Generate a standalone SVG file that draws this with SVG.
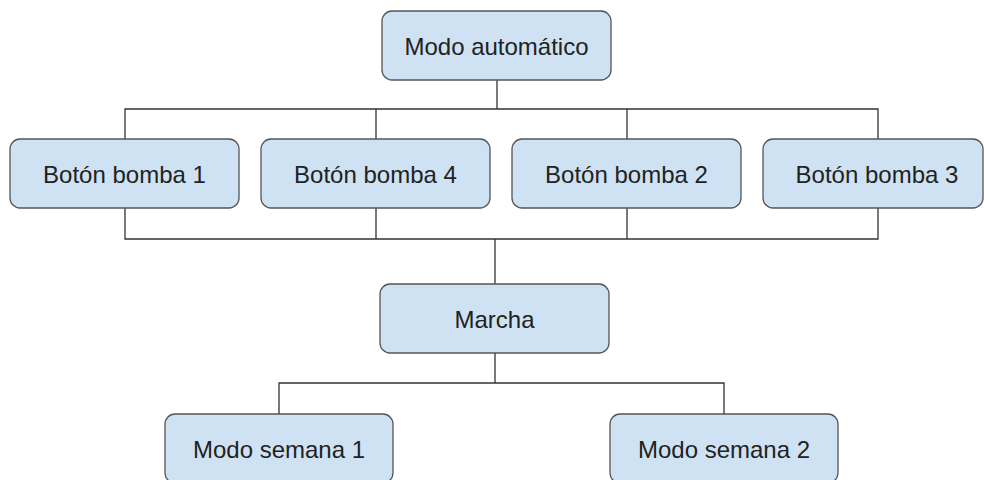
<svg xmlns="http://www.w3.org/2000/svg" width="984" height="480" viewBox="0 0 984 480">
  <style>
    .box { fill: #cfe2f3; stroke: #555555; stroke-width: 1.3; }
    .lbl { font-family: "Liberation Sans", Arial, sans-serif; font-size: 24px; fill: #222222; text-anchor: middle; dominant-baseline: central; }
    .wire { fill: none; stroke: #333333; stroke-width: 1.3; }
  </style>
  <rect width="984" height="480" fill="#ffffff"/>

  <!-- connectors -->
  <g id="connectors">
    <path class="wire" d="M497 80 V109 M125 139 V109 H878 V139 M376 109 V139 M627 109 V139"/>
    <path class="wire" d="M125 208 V239 H878 V208 M376 208 V239 M627 208 V239"/>
    <path class="wire" d="M495 239 V284"/>
    <path class="wire" d="M495 353 V383 M279 414 V383 H724 V414"/>
  </g>

  <g id="modo-automatico">
    <rect class="box" x="382" y="11" width="229" height="69" rx="10"/>
    <text class="lbl" x="496.5" y="46">Modo automático</text>
  </g>
  <g id="boton-bomba-1">
    <rect class="box" x="10" y="139" width="229" height="69" rx="10"/>
    <text class="lbl" x="124.5" y="174">Botón bomba 1</text>
  </g>
  <g id="boton-bomba-4">
    <rect class="box" x="261" y="139" width="229" height="69" rx="10"/>
    <text class="lbl" x="375.5" y="174">Botón bomba 4</text>
  </g>
  <g id="boton-bomba-2">
    <rect class="box" x="512" y="139" width="229" height="69" rx="10"/>
    <text class="lbl" x="626.5" y="174">Botón bomba 2</text>
  </g>
  <g id="boton-bomba-3">
    <rect class="box" x="763" y="139" width="220" height="69" rx="10"/>
    <text class="lbl" x="877" y="174">Botón bomba 3</text>
  </g>
  <g id="marcha">
    <rect class="box" x="380" y="284" width="229" height="69" rx="10"/>
    <text class="lbl" x="494.5" y="319">Marcha</text>
  </g>
  <g id="modo-semana-1">
    <rect class="box" x="165" y="414" width="228" height="69" rx="10"/>
    <text class="lbl" x="279" y="449">Modo semana 1</text>
  </g>
  <g id="modo-semana-2">
    <rect class="box" x="610" y="414" width="228" height="69" rx="10"/>
    <text class="lbl" x="724" y="449">Modo semana 2</text>
  </g>
</svg>
